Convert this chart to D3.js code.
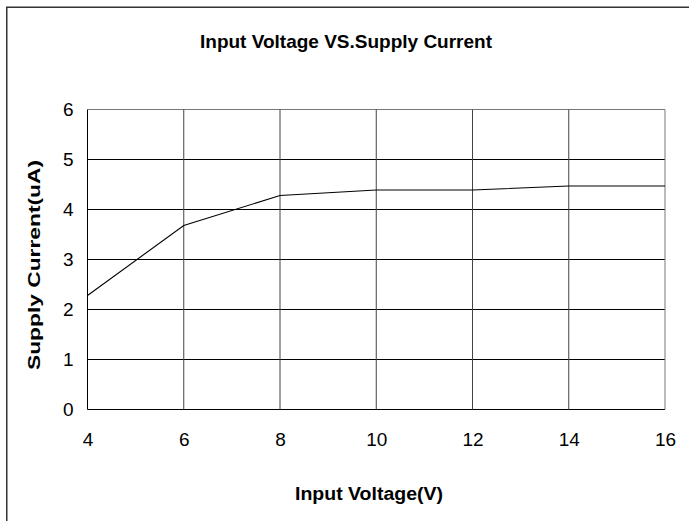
<!DOCTYPE html>
<html>
<head>
<meta charset="utf-8">
<script src="https://cdn.jsdelivr.net/npm/d3@7"></script>
<style>
  body { margin: 0; background: #fff; }
  svg { display: block; font-family: "Liberation Sans", Arial, sans-serif; }
</style>
</head>
<body>
<div class="chart"></div>
<script>
let voltage = [4, 6, 8, 10, 12, 14, 16]
let current = [2.28, 3.68, 4.28, 4.39, 4.39, 4.47, 4.47]
let xTicks = [4, 6, 8, 10, 12, 14, 16]
let yTicks = [0, 1, 2, 3, 4, 5, 6]
let title = "Input Voltage VS.Supply Current"
let xTitle = "Input Voltage(V)"
let yTitle = "Supply Current(uA)"

let width = 689
let height = 521
let plotLeft = 87.5, plotRight = 665, plotTop = 109.5, plotBottom = 409.5

let svg = d3.select(".chart")
  .append("svg")
  .attr("width", width)
  .attr("height", height)

// outer frame, runs off the right and bottom edge
svg.append("rect")
  .attr("x", 6.75)
  .attr("y", 7.25)
  .attr("width", 900)
  .attr("height", 900)
  .attr("fill", "none")
  .attr("stroke", "#333")
  .attr("stroke-width", 1.5)

let x = d3.scaleLinear().domain([4, 16]).range([plotLeft, plotRight])
let y = d3.scaleLinear().domain([0, 6]).range([plotBottom, plotTop])

// grid
svg.append("g")
  .selectAll("line")
  .data(yTicks)
  .enter()
  .append("line")
  .attr("x1", plotLeft)
  .attr("x2", plotRight)
  .attr("y1", d => y(d))
  .attr("y2", d => y(d))
  .attr("stroke", d => d == 6 ? "#777" : "#000")
  .attr("stroke-width", 1)

svg.append("g")
  .selectAll("line")
  .data(xTicks)
  .enter()
  .append("line")
  .attr("x1", d => x(d))
  .attr("x2", d => x(d))
  .attr("y1", plotTop)
  .attr("y2", plotBottom)
  .attr("stroke", d => d == 4 ? "#000" : (d == 16 ? "#777" : "#444"))
  .attr("stroke-width", 1)

// axes labels via d3 axes, domain and tick lines hidden
let xAxis = svg.append("g")
  .attr("transform", `translate(0,${plotBottom})`)
  .call(d3.axisBottom(x).tickValues(xTicks).tickSize(0).tickPadding(23))
xAxis.select(".domain").remove()
xAxis.selectAll("text")
  .attr("font-size", 19)
  .attr("font-family", "Liberation Sans, Arial, sans-serif")
  .attr("fill", "#000")

let yAxis = svg.append("g")
  .attr("transform", `translate(${plotLeft},0)`)
  .call(d3.axisLeft(y).tickValues(yTicks).tickFormat(d3.format("d")).tickSize(0).tickPadding(14))
yAxis.select(".domain").remove()
yAxis.selectAll("text")
  .attr("font-size", 19)
  .attr("font-family", "Liberation Sans, Arial, sans-serif")
  .attr("fill", "#000")

// data line
let line = d3.line()
  .x((d, i) => x(voltage[i]))
  .y(d => y(d))

svg.append("path")
  .datum(current)
  .attr("d", line)
  .attr("fill", "none")
  .attr("stroke", "#000")
  .attr("stroke-width", 1.1)

// titles
svg.append("text")
  .attr("x", 346)
  .attr("y", 48)
  .attr("text-anchor", "middle")
  .attr("font-size", 19)
  .attr("font-weight", "bold")
  .attr("textLength", 292)
  .attr("lengthAdjust", "spacingAndGlyphs")
  .text(title)

svg.append("text")
  .attr("x", 369)
  .attr("y", 500)
  .attr("text-anchor", "middle")
  .attr("font-size", 18)
  .attr("font-weight", "bold")
  .attr("textLength", 148)
  .attr("lengthAdjust", "spacingAndGlyphs")
  .text(xTitle)

svg.append("text")
  .attr("transform", "translate(40,265) rotate(-90)")
  .attr("text-anchor", "middle")
  .attr("font-size", 17)
  .attr("font-weight", "bold")
  .attr("textLength", 210)
  .attr("lengthAdjust", "spacingAndGlyphs")
  .text(yTitle)
</script>
</body>
</html>
